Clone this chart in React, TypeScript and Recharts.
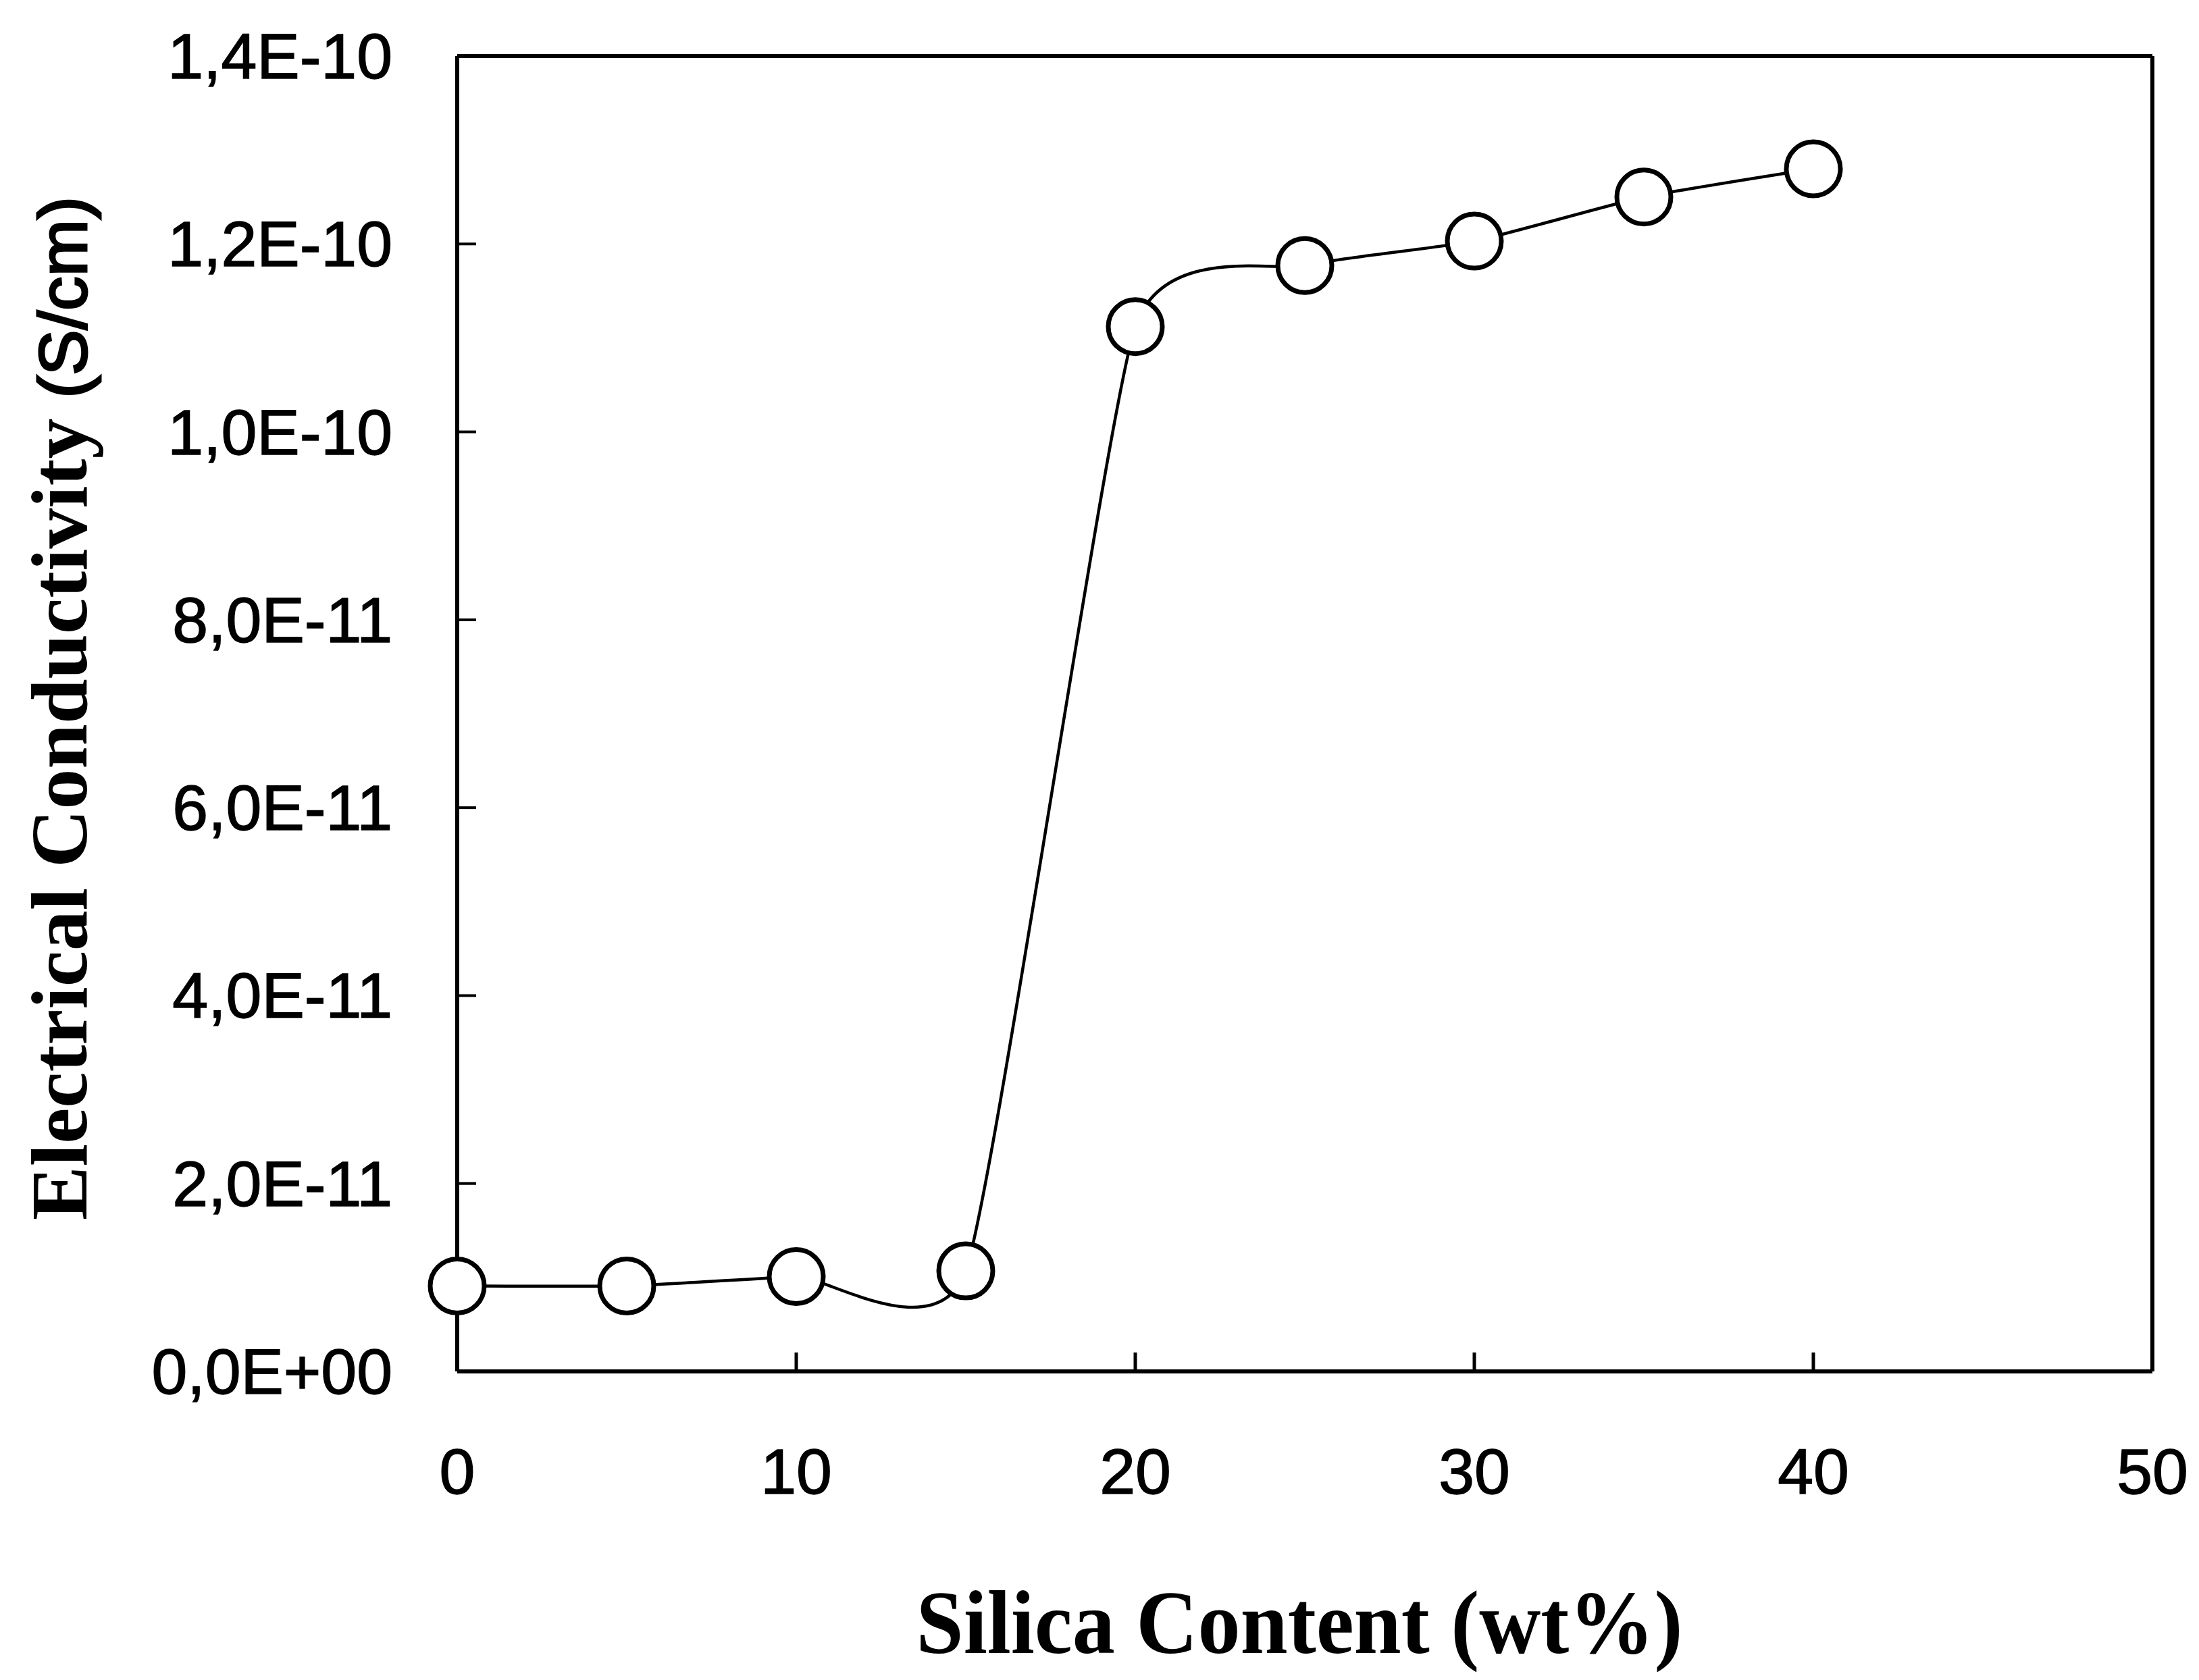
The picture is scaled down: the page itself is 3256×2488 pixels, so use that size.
import { LineChart, Line, XAxis, YAxis, Label, ReferenceLine } from 'recharts'

// Silica content (wt%) vs electrical conductivity (S/cm)
const silica = [0, 5, 10, 15, 20, 25, 30, 35, 40]
const conductivity = [9.1e-12, 9.1e-12, 1.01e-11, 1.07e-11, 1.112e-10, 1.177e-10, 1.203e-10, 1.25e-10, 1.28e-10]

const xTicks = [0, 10, 20, 30, 40, 50]
const yTicks = [0, 2e-11, 4e-11, 6e-11, 8e-11, 1e-10, 1.2e-10, 1.4e-10]
const yTickLabels = ['0,0E+00', '2,0E-11', '4,0E-11', '6,0E-11', '8,0E-11', '1,0E-10', '1,2E-10', '1,4E-10']

const W = 3256
const H = 2488
const SANS = '"Liberation Sans", Arial, sans-serif'
const SERIF = '"Liberation Serif", "Times New Roman", serif'
const Y_GAP = 96 // label to axis
const X_GAP = 112
const TICK = 28 // inward tick length

const chartData = silica.map((x, i) => ({ x, y: conductivity[i] }))

// cardinal spline (tension 0.5) — closer to the original plotting software's smoothing than "natural"
const cardinalCurve = (tension: number) => (context: any) => {
  let xs: number[] = []
  let ys: number[] = []
  const k = (1 - tension) / 6
  return {
    areaStart() {},
    areaEnd() {},
    lineStart() {
      xs = []
      ys = []
    },
    point(x: number, y: number) {
      xs.push(+x)
      ys.push(+y)
    },
    lineEnd() {
      const n = xs.length
      if (!n) return
      context.moveTo(xs[0], ys[0])
      for (let i = 0; i < n - 1; i++) {
        const a = Math.max(i - 1, 0)
        const d = Math.min(i + 2, n - 1)
        context.bezierCurveTo(
          xs[i] + k * (xs[i + 1] - xs[a]),
          ys[i] + k * (ys[i + 1] - ys[a]),
          xs[i + 1] - k * (xs[d] - xs[i]),
          ys[i + 1] - k * (ys[d] - ys[i]),
          xs[i + 1],
          ys[i + 1],
        )
      }
    },
  }
}

// tick label + short inward tick mark
const YTick = ({ x, y, payload }: any) => (
  <g>
    <line x1={x + Y_GAP} x2={x + Y_GAP + TICK} y1={y} y2={y} stroke="#000" strokeWidth={4} />
    <text x={x} y={y} textAnchor="end" dominantBaseline="central" fontFamily={SANS} fontSize={95} fill="#000" stroke="#000" strokeWidth={1.5}>
      {yTickLabels[yTicks.indexOf(payload.value)]}
    </text>
  </g>
)

const XTick = ({ x, y, payload }: any) => (
  <g>
    <line x1={x} x2={x} y1={y - X_GAP} y2={y - X_GAP - TICK} stroke="#000" strokeWidth={5} />
    <text x={x} y={y} textAnchor="middle" dominantBaseline="hanging" fontFamily={SANS} fontSize={95} fill="#000" stroke="#000" strokeWidth={1.5}>
      {payload.value}
    </text>
  </g>
)

const Marker = ({ cx, cy, index }: any) => (
  <circle key={index} cx={cx} cy={cy} r={40} fill="#fff" stroke="#000" strokeWidth={7} />
)

const YTitle = ({ viewBox }: any) => {
  const cy = viewBox.y + viewBox.height / 2 - 8
  return (
    <text
      x={0}
      y={0}
      transform={`translate(128, ${cy}) rotate(-90)`}
      textAnchor="middle"
      textLength={1516}
      lengthAdjust="spacingAndGlyphs"
      fill="#000"
    >
      <tspan fontFamily={SERIF} fontWeight="bold" fontSize={118}>Electrical Conductivity </tspan>
      <tspan fontFamily={SANS} fontSize={100} stroke="#000" strokeWidth={3}>(S/cm)</tspan>
    </text>
  )
}

const XTitle = ({ viewBox }: any) => {
  const cx = viewBox.x + viewBox.width / 2 - 8
  return (
    <text
      x={cx}
      y={2448}
      textAnchor="middle"
      fontFamily={SERIF}
      fontWeight="bold"
      fontSize={133}
      textLength={1135}
      lengthAdjust="spacingAndGlyphs"
      fill="#000"
    >
      Silica Content (wt%)
    </text>
  )
}

export default function App() {
  return (
    <div style={{ position: 'absolute', left: 0, top: 0, width: W, height: H, background: '#fff' }}>
      <LineChart width={W} height={H} data={chartData} margin={{ top: 83, right: 69, left: 0, bottom: 0 }}>
        <XAxis
          dataKey="x"
          type="number"
          domain={[0, 50]}
          ticks={xTicks}
          height={457}
          axisLine={{ stroke: '#000', strokeWidth: 6 }}
          tickLine={false}
          tickSize={0}
          tickMargin={X_GAP}
          tick={<XTick />}
        >
          <Label content={<XTitle />} />
        </XAxis>
        <YAxis
          type="number"
          domain={[0, 1.4e-10]}
          ticks={yTicks}
          width={677}
          axisLine={{ stroke: '#000', strokeWidth: 6 }}
          tickLine={false}
          tickSize={0}
          tickMargin={Y_GAP}
          tick={<YTick />}
        >
          <Label content={<YTitle />} />
        </YAxis>
        <ReferenceLine y={1.4e-10} stroke="#000" strokeWidth={6} ifOverflow="visible" />
        <ReferenceLine x={50} stroke="#000" strokeWidth={6} ifOverflow="visible" />
        <Line
          dataKey="y"
          type={cardinalCurve(0.5) as any}
          stroke="#000"
          strokeWidth={4.5}
          dot={<Marker />}
          activeDot={false}
          isAnimationActive={false}
        />
      </LineChart>
    </div>
  )
}
